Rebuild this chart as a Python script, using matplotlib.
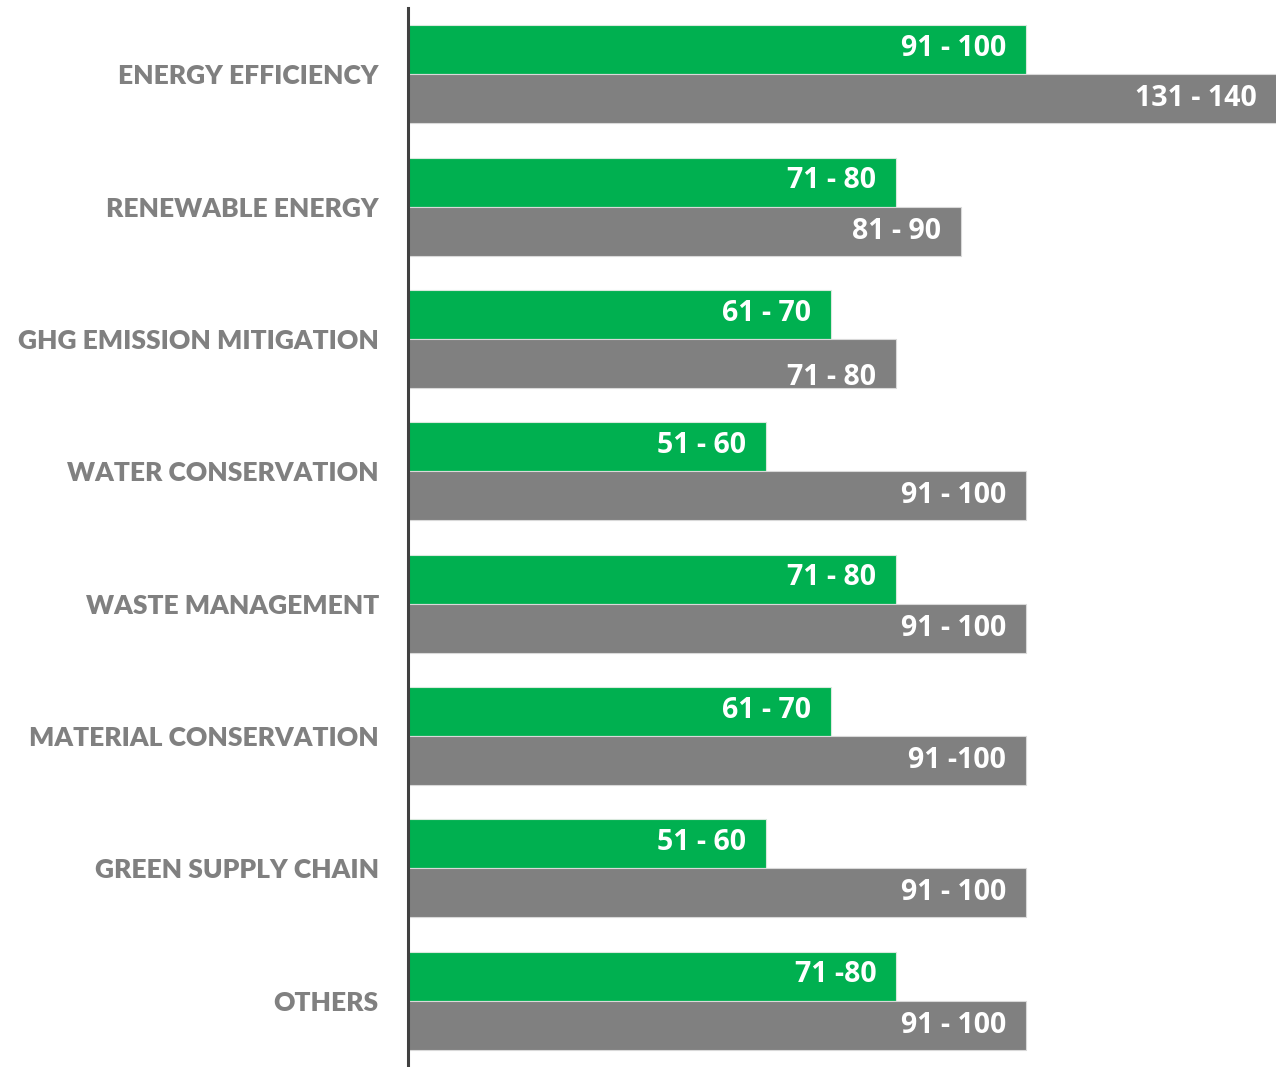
import matplotlib.pyplot as plt
import numpy as np

categories = ["ENERGY EFFICIENCY", "RENEWABLE ENERGY", "GHG EMISSION MITIGATION",
              "WATER CONSERVATION", "WASTE MANAGEMENT", "MATERIAL CONSERVATION",
              "GREEN SUPPLY CHAIN", "OTHERS"]
# bar lengths are the midpoints of the ranges shown on the bars
green_values = [95, 75, 65, 55, 75, 65, 55, 75]
grey_values = [135, 85, 75, 95, 95, 95, 95, 95]
green_labels = ["91 - 100", "71 - 80", "61 - 70", "51 - 60", "71 - 80", "61 - 70", "51 - 60", "71 -80"]
grey_labels = ["131 - 140", "81 - 90", "71 - 80", "91 - 100", "91 - 100", "91 -100", "91 - 100", "91 - 100"]

GREEN = "#00B050"
GREY = "#808080"

fig = plt.figure(figsize=(12.76, 10.67), dpi=100)
ax = fig.add_axes([408 / 1276, 0, 1 - 408 / 1276, 1059 / 1067])

y = np.arange(len(categories))
h = 0.37
ax.barh(y - h / 2, green_values, height=h, color=GREEN, edgecolor="#d9e9dd", linewidth=0.8)
ax.barh(y + h / 2, grey_values, height=h, color=GREY, edgecolor="#d9d9d9", linewidth=0.8)

ax.set_xlim(0, 133.5)
ax.set_ylim(len(categories) - 0.5, -0.5)

for i in range(len(categories)):
    ax.annotate(green_labels[i], (green_values[i], y[i] - h / 2), xytext=(-14, 1),
                textcoords="offset points", ha="right", va="center",
                color="white", fontsize=20.5, fontweight="bold", family="Open Sans")
    # the GHG grey label sits a little low in the original
    dy = -10 if i == 2 else 0
    ax.annotate(grey_labels[i], (min(grey_values[i], 133.5), y[i] + h / 2), xytext=(-14, dy),
                textcoords="offset points", ha="right", va="center",
                color="white", fontsize=20.5, fontweight="bold", family="Open Sans")

ax.set_yticks(y)
ax.set_yticklabels(categories, fontsize=19, fontweight="heavy", color=GREY, family="Lato")
ax.tick_params(axis="y", length=0, pad=21)
ax.set_xticks([])

for side in ["top", "right", "bottom"]:
    ax.spines[side].set_visible(False)
ax.spines["left"].set_color("#404040")
ax.spines["left"].set_linewidth(2.2)

fig.savefig("out.png", dpi=100)
